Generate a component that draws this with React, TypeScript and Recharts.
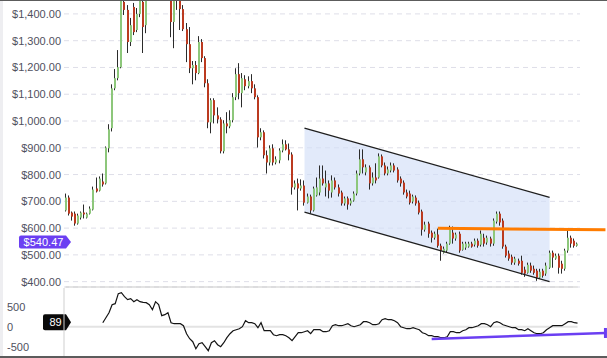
import { ComposedChart, Bar, Line, Area, XAxis, YAxis, CartesianGrid, ReferenceLine } from "recharts";

// OHLC per session, left to right
const opens = [
  666, 714, 658, 654, 617, 639, 658, 639, 654, 669, 748, 740, 774, 767, 898, 973, 1122, 1160, 1201, 1445,
  1415, 1295, 1426, 1340, 1400, 1445, 1358, 1459, 1527, 1489, 1564, 1508, 1471, 1527, 1471, 1370, 1482, 1459, 1418, 1343,
  1287, 1197, 1209, 1179, 1295, 1235, 1141, 995, 1078, 1021, 1006, 887, 991, 980, 1003, 1089, 1175, 1104, 1156, 1130,
  1149, 1122, 1089, 939, 958, 872, 845, 898, 845, 853, 890, 913, 894, 875, 752, 767, 748, 759, 695, 718,
  666, 722, 733, 785, 752, 767, 733, 778, 752, 733, 692, 711, 692, 703, 729, 804, 857, 808, 827, 767,
  789, 789, 868, 834, 804, 815, 834, 819, 785, 770, 733, 729, 699, 714, 695, 662, 594, 617, 583, 564,
  576, 534, 508, 516, 542, 583, 561, 579, 519, 527, 531, 542, 538, 553, 538, 564, 546, 561, 542, 624,
  654, 628, 531, 505, 493, 471, 478, 478, 445, 433, 460, 448, 441, 415, 441, 430, 452, 508, 486, 497,
  467, 448, 516, 564, 553, 534,
];
const highs = [
  729, 722, 662, 662, 654, 662, 688, 658, 681, 755, 789, 793, 804, 905, 988, 1137, 1194, 1265, 1508, 1497,
  1433, 1385, 1441, 1422, 1489, 1471, 1482, 1564, 1583, 1602, 1620, 1546, 1557, 1564, 1508, 1489, 1497, 1474, 1433, 1366,
  1351, 1224, 1224, 1317, 1306, 1242, 1156, 1085, 1085, 1051, 1014, 1003, 1033, 1040, 1104, 1197, 1216, 1179, 1171, 1167,
  1175, 1137, 1096, 973, 965, 890, 909, 913, 868, 898, 931, 928, 916, 883, 778, 785, 782, 778, 729, 725,
  755, 789, 834, 834, 815, 778, 797, 789, 763, 740, 718, 718, 711, 737, 815, 894, 894, 838, 834, 808,
  842, 879, 875, 845, 830, 845, 842, 827, 793, 778, 744, 740, 725, 722, 703, 669, 624, 624, 591, 587,
  598, 542, 531, 549, 609, 606, 583, 587, 549, 549, 549, 549, 561, 561, 591, 579, 572, 568, 636, 662,
  662, 636, 538, 516, 501, 493, 486, 497, 456, 471, 471, 460, 448, 448, 448, 471, 516, 516, 505, 505,
  478, 523, 591, 572, 561, 546,
];
const lows = [
  662, 647, 628, 609, 613, 632, 636, 636, 651, 666, 733, 737, 755, 763, 883, 961, 1115, 1152, 1197, 1396,
  1254, 1280, 1321, 1332, 1388, 1254, 1328, 1456, 1471, 1482, 1489, 1459, 1463, 1459, 1313, 1272, 1415, 1340, 1336, 1220,
  1179, 1137, 1152, 1175, 1220, 1126, 973, 954, 991, 991, 879, 879, 954, 973, 995, 1078, 1081, 1051, 1115, 1122,
  1104, 1081, 901, 928, 860, 804, 834, 834, 838, 842, 883, 890, 853, 725, 744, 666, 740, 684, 692, 654,
  662, 718, 722, 759, 718, 711, 714, 744, 718, 684, 684, 669, 684, 699, 722, 797, 804, 797, 744, 759,
  767, 785, 827, 797, 797, 808, 808, 770, 755, 725, 711, 688, 692, 684, 651, 572, 587, 564, 546, 557,
  527, 478, 505, 508, 538, 542, 553, 508, 516, 519, 527, 527, 531, 527, 531, 531, 538, 531, 534, 617,
  609, 523, 490, 478, 463, 463, 460, 426, 418, 430, 433, 426, 403, 411, 415, 422, 448, 452, 482, 430,
  430, 441, 508, 527, 527, 531,
];
const closes = [
  714, 654, 643, 617, 647, 658, 651, 654, 673, 744, 737, 785, 763, 901, 969, 1122, 1160, 1201, 1482, 1415,
  1295, 1358, 1332, 1400, 1452, 1351, 1459, 1527, 1489, 1564, 1508, 1471, 1527, 1471, 1370, 1463, 1459, 1418, 1343, 1287,
  1197, 1209, 1179, 1295, 1235, 1141, 995, 1078, 1021, 1006, 887, 991, 980, 1003, 1089, 1175, 1104, 1160, 1130, 1149,
  1122, 1089, 939, 958, 872, 845, 898, 845, 857, 890, 913, 894, 875, 752, 767, 748, 759, 695, 718, 666,
  748, 752, 785, 767, 767, 740, 778, 752, 729, 692, 711, 688, 703, 729, 804, 857, 827, 827, 767, 789,
  778, 868, 834, 804, 819, 834, 815, 778, 767, 733, 718, 695, 718, 692, 658, 594, 613, 579, 564, 579,
  534, 516, 523, 542, 602, 561, 576, 516, 542, 542, 542, 531, 553, 534, 579, 542, 564, 542, 628, 654,
  621, 531, 497, 486, 471, 486, 467, 433, 430, 463, 441, 433, 415, 437, 422, 460, 508, 490, 497, 452,
  448, 516, 564, 542, 534, 542,
];

// momentum oscillator, starts at session 12
const momentumStart = 12;
const momentum = [
  100, 225, 350, 550, 575, 825, 850, 750, 675, 700, 625, 675, 625, 610, 600, 550, 425, 625, 550, 275,
  300, 350, 100, 75, 75, 75, 25, -175, -300, -375, -550, -425, -400, -500, -600, -400, -350, -450, -500, -400,
  -275, -175, -100, -75, -50, 0, 150, 100, 100, 75, -25, 100, -100, -100, -100, -200, -225, -200, -200, -225,
  -275, -350, -250, -150, -150, -125, -100, -175, -75, -75, -75, -125, -125, -100, 25, 50, 25, 25, 50, 75,
  25, 0, 25, 50, 125, 125, 100, 50, 50, 75, 175, 200, 175, 175, 150, 100, 0, -25, -50, -50,
  -25, -50, -75, -150, -175, -225, -225, -250, -250, -275, -275, -250, -125, -125, -150, -150, -100, -75, -25, -25,
  0, 25, 75, 75, 50, 0, 100, 125, 100, 50, 25, 0, -25, -25, -75, -75, -100, -50, -100, -150,
  -175, -175, -150, -75, -25, 25, 25, 25, 25, 75, 125, 125, 100, 89,
];

// drawn studies: descending channel, resistance, oscillator support
const channelIdx = [77, 156];
const channelUpper = [973, 715];
const channelLower = [660, 400];
const resistanceIdx = [120, 174];
const resistance = [599, 594];
const supportIdx = [118, 174];
const momentumSupport = [-307, -157];

const priceTicks = [400, 500, 600, 700, 800, 900, 1000, 1100, 1200, 1300, 1400];
const momentumTicks = [-500, 0, 500];
const lastPrice = 540.47;
const lastMomentum = 89;

const SLOTS = 175; // sessions plus empty room on the right
const FONT = "'Liberation Sans', Arial, sans-serif";
const AXIS_TEXT = "#50505e";
const GREEN = "#8dc77b";
const RED = "#bb3a20";
const PURPLE = "#6b3ff2";
const GRID_LEN = 516;

const rows = Array.from({ length: SLOTS }, (_, i) => {
  const c = channelIdx.indexOf(i);
  const r = resistanceIdx.indexOf(i);
  const s = supportIdx.indexOf(i);
  const m = i - momentumStart;
  return {
    i,
    open: i < opens.length ? opens[i] : null,
    high: i < highs.length ? highs[i] : null,
    low: i < lows.length ? lows[i] : null,
    close: i < closes.length ? closes[i] : null,
    chHi: c >= 0 ? channelUpper[c] : null,
    chLo: c >= 0 ? channelLower[c] : null,
    res: r >= 0 ? resistance[r] : null,
    mom: m >= 0 && m < momentum.length ? momentum[m] : null,
    sup: s >= 0 ? momentumSupport[s] : null,
  };
});

const Candle = (props: any) => {
  const { x, y, width, height, payload } = props;
  if (!payload || payload.open == null || !(height > 0)) return null;
  const { open, close, high, low } = payload;
  const px = (v: number) => y + ((high - v) / (high - low)) * height;
  const cx = Math.round(x + width / 2);
  const top = px(Math.max(open, close));
  const bot = px(Math.min(open, close));
  return (
    <g>
      <line x1={cx - 0.5} x2={cx - 0.5} y1={y} y2={y + height} stroke="#2b2b2b" strokeWidth={1} />
      <rect x={cx - 1} y={top} width={2} height={Math.max(1, bot - top)} fill={close >= open ? GREEN : RED} />
    </g>
  );
};

const PriceTick = ({ y, payload }: any) => (
  <text x={61} y={y} textAnchor="end" dominantBaseline="central" fill={AXIS_TEXT} fontSize={11} fontFamily={FONT}>
    {"$" + payload.value.toLocaleString("en-US", { minimumFractionDigits: 2 })}
  </text>
);

const MomentumTick = ({ y, payload }: any) => (
  <text x={7} y={y} textAnchor="start" dominantBaseline="central" fill={AXIS_TEXT} fontSize={11} fontFamily={FONT}>
    {payload.value}
  </text>
);

const Tag = ({ viewBox, text, color, left, h, dy }: any) => {
  if (!viewBox) return null;
  const cy = viewBox.y + dy;
  const right = 66;
  const tip = 71;
  const t = cy - h / 2;
  const b = cy + h / 2;
  return (
    <g>
      <path
        d={`M${left + 2},${t} H${right} L${tip},${cy} L${right},${b} H${left + 2} Q${left},${b} ${left},${b - 2} V${t + 2} Q${left},${t} ${left + 2},${t} Z`}
        fill={color}
      />
      <text x={(left + right) / 2 + 1} y={cy} textAnchor="middle" dominantBaseline="central" fill="#fff" fontSize={11} fontFamily={FONT}>
        {text}
      </text>
    </g>
  );
};

const SupportEnd = (props: any) => {
  const { cx, cy, payload } = props;
  if (!payload || payload.i !== supportIdx[supportIdx.length - 1] || cy == null) return null;
  return <rect x={cx - 1.5} y={cy - 5} width={3} height={10} fill={PURPLE} />;
};

const shortGrid = (p: any) => (
  <line key={p.key} x1={p.x1} x2={p.x1 + GRID_LEN} y1={p.y1} y2={p.y2} stroke="#dedee8" strokeDasharray="5 4" />
);

const App = () => {
  return (
    <div style={{ position: "absolute", left: 0, top: 0, width: 607, height: 358, background: "#fff", overflow: "hidden", fontFamily: FONT }}>
      <div style={{ position: "absolute", left: 0, top: 0, width: 3, height: 358, background: "#eeeef1" }} />
      <div style={{ position: "absolute", left: 0, top: 0 }}>
        <ComposedChart width={607} height={288} data={rows} margin={{ top: 0, right: 0, bottom: 1, left: 0 }}>
          <CartesianGrid vertical={false} horizontal={shortGrid} />
          <XAxis dataKey="i" scale="band" hide />
          <YAxis
            width={64}
            domain={[380, 1452]}
            allowDataOverflow
            ticks={priceTicks}
            interval={0}
            tick={<PriceTick />}
            tickLine={false}
            axisLine={false}
          />
          <Area
            dataKey={(d: any) => (d.chHi == null ? null : [d.chLo, d.chHi])}
            connectNulls
            stroke="none"
            fill="#d3dff7"
            fillOpacity={0.65}
            isAnimationActive={false}
          />
          <ReferenceLine segment={[{ x: 0, y: 380 }, { x: 165, y: 380 }]} stroke="#c9c9c9" strokeWidth={1} />
          <Bar dataKey={(d: any) => (d.open == null ? null : [d.low, d.high])} barSize={3} shape={<Candle />} isAnimationActive={false} />
          <Line dataKey="chHi" connectNulls stroke="#1e1e1e" strokeWidth={1.3} dot={false} isAnimationActive={false} />
          <Line dataKey="chLo" connectNulls stroke="#1e1e1e" strokeWidth={1.3} dot={false} isAnimationActive={false} />
          <Line dataKey="res" connectNulls stroke="#ff7c00" strokeWidth={3} dot={false} isAnimationActive={false} />
          <ReferenceLine
            y={lastPrice}
            strokeOpacity={0}
            label={<Tag text={"$" + lastPrice} color={PURPLE} left={19} h={13} dy={-2} />}
          />
        </ComposedChart>
      </div>
      <div style={{ position: "absolute", left: 0, top: 288 }}>
        <ComposedChart width={607} height={69} data={rows} margin={{ top: 0, right: 0, bottom: 0, left: 0 }}>
          <XAxis dataKey="i" scale="band" hide />
          <YAxis
            width={64}
            domain={[-757, 967]}
            allowDataOverflow
            ticks={momentumTicks}
            interval={0}
            tick={<MomentumTick />}
            tickLine={false}
            axisLine={{ stroke: "#cfcfcf" }}
          />
          <ReferenceLine segment={[{ x: 0, y: 0 }, { x: 165, y: 0 }]} stroke="#e3e3e3" strokeWidth={2} />
          <Line dataKey="mom" stroke="#141414" strokeWidth={1.2} dot={false} isAnimationActive={false} />
          <Line dataKey="sup" connectNulls stroke={PURPLE} strokeWidth={2.5} dot={<SupportEnd />} isAnimationActive={false} />
          <ReferenceLine
            y={lastMomentum}
            strokeOpacity={0}
            label={<Tag text={String(lastMomentum)} color="#0a0a0a" left={43} h={16} dy={-1} />}
          />
        </ComposedChart>
      </div>
      <div style={{ position: "absolute", left: 0, top: 0, width: 607, height: 1, background: "#5c5c5c" }} />
      <div style={{ position: "absolute", left: 0, top: 356, width: 607, height: 2, background: "#5c5c5c" }} />
    </div>
  );
};

export default App;
